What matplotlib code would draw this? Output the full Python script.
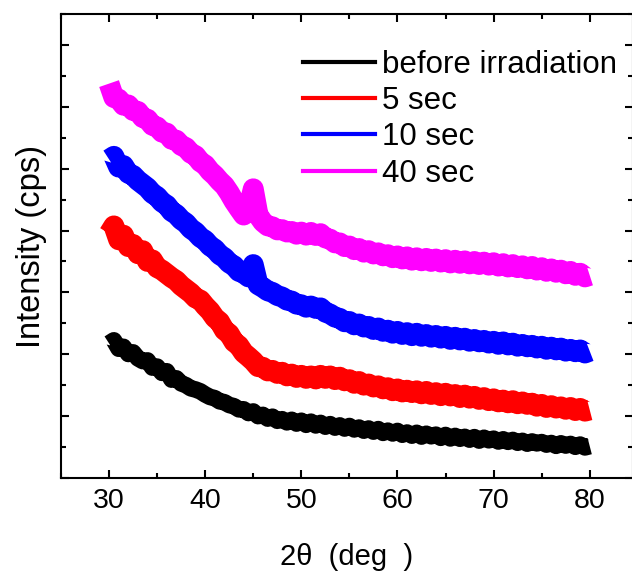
import numpy as np
import matplotlib
matplotlib.use("Agg")
import matplotlib.pyplot as plt
from matplotlib.lines import Line2D
from matplotlib.ticker import MultipleLocator, NullFormatter

plt.rcParams['font.family'] = ['Liberation Sans', 'DejaVu Sans']

# 2theta scan grid (deg), 0.5 deg step
two_theta = np.arange(30, 80.01, 0.5)

# intensities (arbitrary cps)
before = [435, 445, 418, 424, 401, 406, 387, 378, 380, 357,
          360, 340, 345, 318, 322, 306, 300, 290, 286, 280,
          270, 262, 258, 248, 245, 236, 232, 222, 222, 210,
          215, 200, 204, 192, 198, 185, 190, 180, 188, 176,
          185, 172, 182, 170, 178, 166, 174, 163, 170, 160,
          168, 157, 163, 153, 160, 150, 158, 146, 153, 144,
          152, 140, 147, 137, 146, 134, 143, 135, 140, 130,
          139, 128, 136, 127, 133, 124, 132, 121, 130, 122,
          127, 118, 125, 117, 123, 114, 120, 111, 118, 112,
          116, 108, 113, 104, 112, 105, 110, 101, 108, 99,
          103]

sec5 = [790, 815, 770, 785, 748, 755, 725, 735, 700, 705,
        680, 672, 660, 648, 638, 622, 610, 598, 582, 575,
        556, 540, 518, 505, 478, 466, 440, 428, 405, 392,
        378, 360, 358, 346, 348, 338, 342, 330, 336, 325,
        332, 322, 330, 320, 332, 322, 330, 318, 326, 314,
        318, 306, 312, 300, 304, 294, 298, 288, 292, 282,
        288, 278, 284, 276, 282, 272, 280, 270, 276, 266,
        274, 265, 270, 260, 268, 258, 264, 254, 260, 250,
        256, 246, 252, 243, 250, 240, 246, 238, 242, 232,
        238, 228, 234, 226, 230, 222, 228, 218, 225, 216,
        220]

sec10 = [1030, 1040, 1005, 1010, 985, 978, 962, 950, 938, 920,
         910, 892, 882, 862, 852, 835, 824, 806, 795, 778,
         768, 750, 740, 722, 712, 695, 686, 668, 662, 650,
         690, 625, 616, 605, 600, 590, 585, 575, 572, 562,
         560, 552, 556, 548, 550, 536, 530, 520, 516, 505,
         506, 495, 498, 488, 490, 480, 485, 474, 478, 468,
         474, 464, 470, 460, 468, 458, 464, 455, 461, 452,
         458, 448, 455, 446, 452, 442, 448, 440, 445, 436,
         442, 432, 440, 430, 436, 426, 432, 424, 429, 420,
         426, 416, 423, 414, 420, 410, 416, 408, 414, 404,
         410]

sec40 = [1275, 1230, 1225, 1205, 1206, 1188, 1185, 1165, 1160, 1140,
         1135, 1118, 1115, 1095, 1092, 1075, 1068, 1050, 1042, 1022,
         1012, 992, 978, 960, 945, 922, 895, 872, 850, 870,
         935, 850, 828, 815, 812, 802, 803, 795, 797, 788,
         795, 785, 794, 784, 790, 776, 772, 760, 760, 748,
         750, 738, 742, 730, 735, 724, 728, 718, 722, 712,
         718, 708, 715, 704, 712, 702, 710, 700, 708, 698,
         706, 695, 704, 694, 702, 692, 700, 690, 698, 688,
         696, 685, 693, 682, 690, 680, 686, 676, 684, 672,
         680, 668, 676, 665, 672, 660, 668, 655, 662, 650,
         655]

labels = ['before irradiation', '5 sec', '10 sec', '40 sec']
colors = ['black', '#ff0000', '#0000ff', '#ff00ff']
series = [before, sec5, sec10, sec40]
widths = [12, 15, 15, 15]

fig = plt.figure(figsize=(6.32, 5.75), dpi=100)
ax = fig.add_axes([61 / 632, 1 - 478 / 575, 572 / 632, 464 / 575])

for y, c, w in zip(series, colors, widths):
    ax.plot(two_theta, y, color=c, lw=w, solid_joinstyle='round',
            solid_capstyle='butt')

ax.set_xlim(25, 84.5)
ax.set_ylim(0, 1500)
ax.xaxis.set_major_locator(MultipleLocator(10))
ax.xaxis.set_minor_locator(MultipleLocator(5))
ax.yaxis.set_major_locator(MultipleLocator(200))
ax.yaxis.set_minor_locator(MultipleLocator(100))
ax.yaxis.set_major_formatter(NullFormatter())

ax.tick_params(which='both', direction='in', top=True, right=True, width=1.5)
ax.tick_params(which='major', length=6, labelsize=20.5, pad=7)
ax.tick_params(which='minor', length=3.5)
for s in ax.spines.values():
    s.set_linewidth(1.5)

ax.set_xlabel('2θ  (deg  )', fontsize=21, labelpad=21)
ax.set_ylabel('Intensity (cps)', fontsize=23.5, labelpad=3)

handles = [Line2D([], [], color=c, lw=3) for c in colors]
ax.legend(handles, labels, loc='upper right', bbox_to_anchor=(1.004, 0.963),
          frameon=False, fontsize=22.5, handlelength=2.3, handletextpad=0.2,
          labelspacing=0.2, borderaxespad=0.2)

fig.savefig('out.png', dpi=100)
